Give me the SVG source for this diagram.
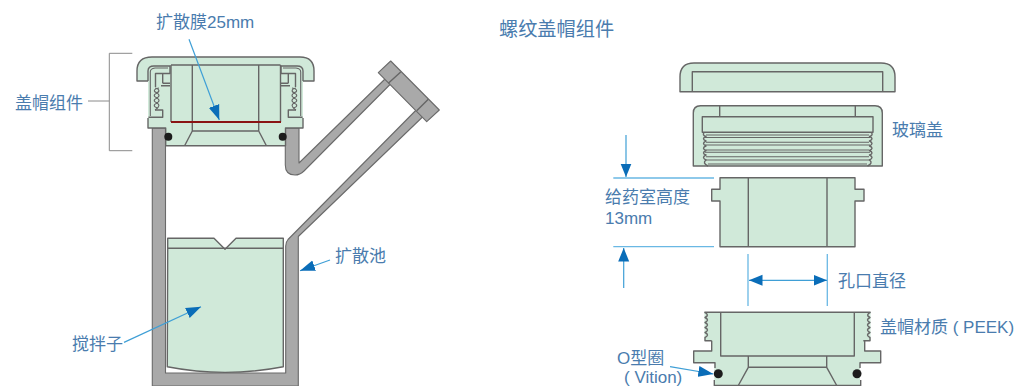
<svg xmlns="http://www.w3.org/2000/svg" width="1018" height="386" viewBox="0 0 1018 386">
<style>
text{font-family:"Liberation Sans","Noto Sans CJK SC",sans-serif;font-size:17px;fill:#4a7cae}
.g{fill:#d0e9d9;stroke:#666;stroke-width:1.4;stroke-linejoin:round}
.gn{fill:#d0e9d9;stroke:none}
.l{fill:none;stroke:#666;stroke-width:1.4;stroke-linejoin:round}
.t{fill:none;stroke:#666;stroke-width:1.1}
.w{fill:#a9a9a9;stroke:#6a6a6a;stroke-width:1.100;stroke-linejoin:round}
.a{fill:none;stroke:#3f9fd6;stroke-width:1.2}
.b{fill:none;stroke:#8a8a8a;stroke-width:1}
.d{fill:none;stroke:#6ab8e4;stroke-width:1.3}
</style>
<defs>
<marker id="ah" markerUnits="userSpaceOnUse" markerWidth="16" markerHeight="12" refX="15" refY="6" orient="auto"><path d="M0,0.5L15,6L0,11.5Z" fill="#0a6db8"/></marker>
<marker id="as" markerUnits="userSpaceOnUse" markerWidth="14" markerHeight="12" refX="13.500" refY="6" orient="auto-start-reverse"><path d="M0,0.500L13.500,6L0,11.500Z" fill="#0a6db8"/></marker>
<g id="capHalf">
<path class="l" d="M148,81V71Q148,66 154,66H170V73.500H155.500V87M162.700,74V83.300M170,83.300H162.700M170,85.700H161"/>
<path class="t" d="M150.300,116V72Q150.300,68.500 155,68H168"/>
<path class="t" d="M159,88C153,89 153,92 158,93C153,94 153,97 158,98C153,99 153,102 158,103C153,104 153,107 158,108"/>
<path class="t" d="M155,88C160,89 160,92 156,93C160,94 160,97 156,98C160,99 160,102 156,103C160,104 160,107 155,110"/>
<path class="l" d="M155,110H162.700V117.300H148.500"/>
<circle cx="168.300" cy="136.700" r="4" fill="#1c1c1c"/>
<path class="l" d="M192.300,65V131M192.300,131L184.600,145.700"/>
</g>
<g id="threadL">
<path class="l" d="M704,133Q702,135 706,136.500Q701,138.500 706,141Q701,143.500 706,146Q701,148 706,150.500Q701,153 706,155Q701,157.500 706,160Q702,163 708,166"/>
</g>
<g id="threadB">
<path class="l" d="M704.500,312.300Q710,315 705,317.500Q710,320 705,322.500Q710,325 705,327.500Q710,330 705,332.500Q710,335 705,337.500L705,340.700H711.700"/>
</g>
</defs>

<g id="diffusion-cell">
<path class="w" d="M152.300,386V128H165.500V373H285.700V246Q285.700,242 288,239.500L416.200,110L422.500,117L298.300,236.500V373V386Z"/>
<path class="w" d="M285.300,128V165Q285.300,175 295,175Q300,175 304,171L390.500,84L385,79L299,163V128Z"/>
<path class="w" d="M390.700,61L439.300,110L426.700,121.700L378.300,72.700Z"/>
<path class="l" d="M400.700,72L388.300,83.300M428.300,99.300L416.700,110.700"/>
</g>

<g id="cap-assembly">
<path class="gn" d="M137,81V71Q137,57 152,57H300Q314,57 314,71V81H303V128H285.500V145.700H165.700V128H148V81Z"/>
<path class="l" d="M148,118V128H165.700V145.700H285.500V128H303V118"/>
<path class="l" d="M148,81H137V71Q137,57 152,57H300Q314,57 314,71V81H303"/>
<use href="#capHalf"/>
<use href="#capHalf" transform="translate(451 0) scale(-1 1)"/>
<path class="l" d="M171,65V122M280.500,65V122M192,131H258.700M171,65H280.500"/>
<path fill="none" stroke="#8a1414" stroke-width="2.200" d="M171,122H281"/>
</g>

<g id="stir-bar">
<path class="g" d="M167.700,248.300V238.300H214L225,249.300L236,238.300H283.300V248.300V366.700Q225,378 167.300,366.700Z"/>
<path class="l" d="M167.700,248.300H283.300"/>
</g>

<g id="screw-cap">
<path class="g" d="M680,91.700V77Q680,63 694,63H881Q895,63 895,77V91.700Z"/>
<path class="l" d="M692.300,91.700V71.700H882.700V91.700"/>
</g>

<g id="glass-cover">
<path class="g" d="M693.300,166V113Q693.300,105.700 700.500,105.700H875Q882.300,105.700 882.300,113V166Z"/>
<path class="l" d="M719.700,105.700V116.700M855.300,105.700V116.700"/>
<rect class="l" x="702.300" y="116.700" width="170.700" height="15.600"/>
<path class="t" d="M706,135H869M705,137.500H870M706,142.300H869M705,145H870M706,150H869M705,152.300H870M706,156.700H869M705,160H870M708,164H867"/>
<use href="#threadL"/>
<use href="#threadL" transform="translate(1575.500 0) scale(-1 1)"/>
</g>

<g id="chamber">
<path class="g" d="M720,177.700H855V189.300H864V201H855V246.700H720V201H711.700V189.300H720Z"/>
<path class="l" d="M748.300,177.700V246.700M827,177.700V246.700"/>
</g>

<g id="cap-body">
<path class="gn" d="M704.500,312.300H870.500V340.700L864.700,340.700V351H880.700V362.700H860V385.500H714.300V362.700H693.700V351H711.700V340.700H704.500Z"/>
<path class="l" d="M704.500,312.300H870.500M711.700,340.700V351H693.700V362.700H715V368M714.300,380V385.500H860.700V380M860,368V362.700H880.700V351H864.700V340.700"/>
<use href="#threadB"/>
<use href="#threadB" transform="translate(1575 0) scale(-1 1)"/>
<path class="l" d="M720.700,312.300V356H854.300V312.300M748.300,356V367.300H826.700V356M748.300,367.300L738.300,385.500M826.700,367.300L836.700,385.500"/>
<circle cx="718.300" cy="373.700" r="4.500" fill="#1c1c1c"/>
<circle cx="857" cy="373.700" r="4.500" fill="#1c1c1c"/>
</g>

<g id="connectors">
<path class="b" d="M132.300,53.300H109.300V150.700H132.300M88,101H109.300"/>
<path class="a" d="M189,39.300L219.300,120" marker-end="url(#ah)"/>
<path class="a" d="M124,342.400L201,306.700" marker-end="url(#ah)"/>
<path class="a" d="M330,260L300,270.700" marker-end="url(#ah)"/>
<path class="a" d="M670,366.700L713.300,374" marker-end="url(#ah)"/>
<path class="d" d="M613.300,178H714M613.300,246.700H714M748,254V306M827.300,254V306"/>
<path class="a" d="M626,135V177" marker-end="url(#as)"/>
<path class="a" d="M623.700,288V248" marker-end="url(#as)"/>
<path class="a" d="M749,280.300H827" marker-start="url(#as)" marker-end="url(#as)"/>
</g>

<g id="labels">
<text x="156" y="28">扩散膜25mm</text>
<text x="15" y="109">盖帽组件</text>
<text x="499" y="36" style="font-size:19.200px">螺纹盖帽组件</text>
<text x="892" y="136">玻璃盖</text>
<text x="605" y="203">给药室高度</text>
<text x="605" y="224">13mm</text>
<text x="838" y="287">孔口直径</text>
<text x="880" y="333">盖帽材质 ( PEEK)</text>
<text x="617" y="364">O型圈</text>
<text x="624" y="383">( Vition)</text>
<text x="335" y="262">扩散池</text>
<text x="72" y="350">搅拌子</text>
</g>
</svg>
